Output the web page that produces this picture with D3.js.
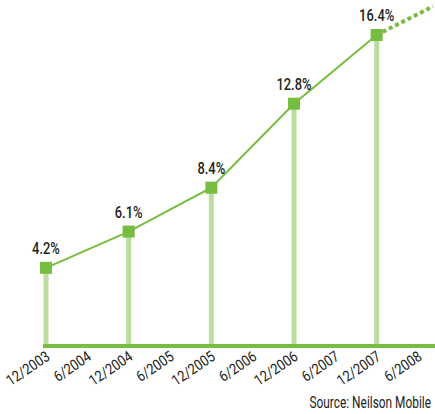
<!DOCTYPE html>
<html>
<head>
<meta charset="utf-8">
<script src="https://cdn.jsdelivr.net/npm/d3@7"></script>
<style>
  body { margin: 0; background: #fff; }
  svg text { font-family: Roboto, "Liberation Sans", sans-serif; fill: #222; }
</style>
</head>
<body>
<div id="chart"></div>
<script>
'use strict';

// tick labels along the bottom (half-year steps)
const tickLabels = ['12/2003', '6/2004', '12/2004', '6/2005', '12/2005', '6/2006', '12/2006', '6/2007', '12/2007', '6/2008'];
// measured points
const pointDates = ['12/2003', '12/2004', '12/2005', '12/2006', '12/2007'];
const pointValues = [4.2, 6.1, 8.4, 12.8, 16.4];
// projected value at 6/2008 (dotted)
const projDate = '6/2008';
const projValue = 17.5;

const width = 435, height = 414;
const lineGreen = '#77bd41';
const barGreen = '#bbdd9f';

let svg = d3.select('#chart').append('svg').attr('width', width).attr('height', height);

let x = d3.scalePoint().domain(tickLabels).range([46, 418]);
let y = d3.scaleLinear().domain([0, 16.4]).range([348, 35]);
let baseY = 346;

let data = pointDates.map((d, i) => ({ d: d, v: pointValues[i] }));

// pale vertical bars
svg.selectAll('.bar').data(data).enter().append('line')
  .attr('x1', d => x(d.d)).attr('x2', d => x(d.d))
  .attr('y1', d => y(d.v)).attr('y2', baseY)
  .attr('stroke', barGreen).attr('stroke-width', 5);

// baseline
svg.append('line')
  .attr('x1', x(tickLabels[0]) - 3).attr('x2', width)
  .attr('y1', baseY).attr('y2', baseY)
  .attr('stroke', lineGreen).attr('stroke-width', 4);

// main line
let line = d3.line().x(d => x(d.d)).y(d => y(d.v));
svg.append('path').attr('d', line(data))
  .attr('fill', 'none').attr('stroke', lineGreen).attr('stroke-width', 2);

// dotted projection, extended to the right edge
let last = data[data.length - 1];
let x0 = x(last.d), y0 = y(last.v), x1 = x(projDate), y1 = y(projValue);
let slope = (y1 - y0) / (x1 - x0);
let xe = width - 2;
svg.append('line')
  .attr('x1', x0 + 6).attr('y1', y0 + slope * 6)
  .attr('x2', xe).attr('y2', y0 + slope * (xe - x0))
  .attr('stroke', lineGreen).attr('stroke-width', 4)
  .attr('stroke-dasharray', '4,3');

// square markers
svg.selectAll('.mk').data(data).enter().append('rect')
  .attr('x', d => x(d.d) - 6).attr('y', d => y(d.v) - 6)
  .attr('width', 12).attr('height', 12)
  .attr('fill', lineGreen);

// value labels (squeezed to look like a condensed face)
svg.selectAll('.val').data(data).enter().append('text')
  .attr('transform', d => 'translate(' + x(d.d) + ',' + (y(d.v) - 14) + ') scale(0.76,1)')
  .attr('text-anchor', 'middle')
  .attr('font-size', 17).attr('font-weight', 500)
  .text(d => d.v.toFixed(1) + '%');

// rotated tick labels
svg.selectAll('.tick').data(tickLabels).enter().append('text')
  .attr('transform', d => 'translate(' + (x(d) + 5) + ',' + (baseY + 13) + ') rotate(-34) scale(0.86,1)')
  .attr('text-anchor', 'end')
  .attr('font-size', 15)
  .text(d => d);

// source
svg.append('text')
  .attr('transform', 'translate(431,408) scale(0.7,1)')
  .attr('text-anchor', 'end')
  .attr('font-size', 17)
  .text('Source: Neilson Mobile');
</script>
</body>
</html>
